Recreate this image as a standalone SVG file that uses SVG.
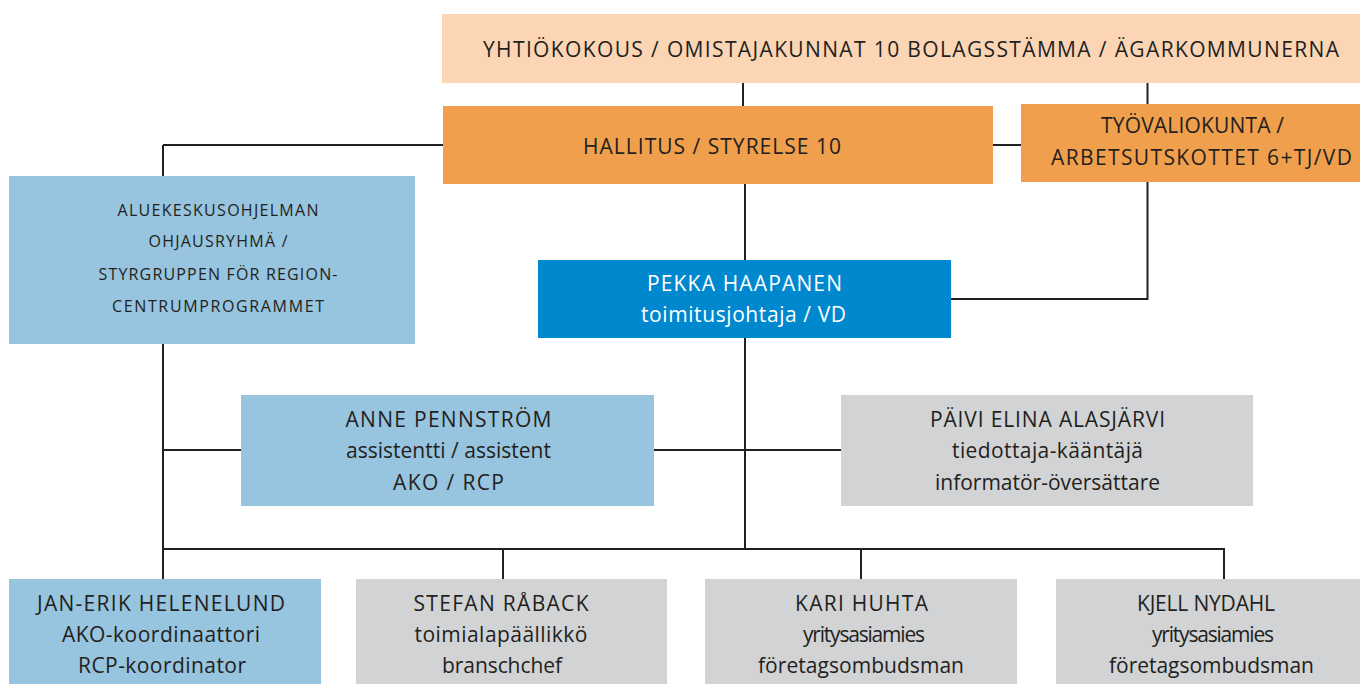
<svg xmlns="http://www.w3.org/2000/svg" width="1360" height="684" viewBox="0 0 1360 684">
<style>
.peach{fill:#fcd5b5}
.orange{fill:#f0a04c}
.lblue{fill:#97c4de}
.blue{fill:#0088cf}
.gray{fill:#d1d3d5}
text{font-family:"Open Sans","Noto Sans","Liberation Sans",sans-serif;font-size:21px;fill:#231f20;text-anchor:middle}
text.w{fill:#ffffff}
text.s{font-size:16px}
.conn{fill:none;stroke:#231f20;stroke-width:2}
</style>
<rect width="1360" height="684" fill="#ffffff"/>
<g id="connectors" class="conn">
<path d="M743,82 V106"/>
<path d="M1147.5,82 V104 M1147.5,181 V299 H951"/>
<path d="M163,145 H443 M993,145 H1021"/>
<path d="M163,145 V579"/>
<path d="M745,183 V549"/>
<path d="M163,450 H241 M654,450 H841"/>
<path d="M163,549 H1225"/>
<path d="M503,549 V579 M861,549 V579 M1224,549 V579"/>
</g>
<g id="yhtiokokous">
<rect class="peach" x="442" y="14" width="918" height="69"/>
<text x="911" y="56.5" textLength="856">YHTIÖKOKOUS / OMISTAJAKUNNAT 10 BOLAGSSTÄMMA / ÄGARKOMMUNERNA</text>
</g>
<g id="hallitus">
<rect class="orange" x="443" y="106" width="550" height="78"/>
<text x="712" y="154" textLength="258">HALLITUS / STYRELSE 10</text>
</g>
<g id="tyovaliokunta">
<rect class="orange" x="1021" y="104" width="339" height="78"/>
<text x="1192.5" y="133" textLength="183">TYÖVALIOKUNTA /</text>
<text x="1201.5" y="165" textLength="301">ARBETSUTSKOTTET 6+TJ/VD</text>
</g>
<g id="ohjausryhma">
<rect class="lblue" x="9" y="176" width="406" height="168"/>
<text class="s" x="218" y="216" textLength="201">ALUEKESKUSOHJELMAN</text>
<text class="s" x="218" y="247" textLength="139">OHJAUSRYHMÄ /</text>
<text class="s" x="218" y="280" textLength="239">STYRGRUPPEN FÖR REGION-</text>
<text class="s" x="218" y="312" textLength="212">CENTRUMPROGRAMMET</text>
</g>
<g id="pekka">
<rect class="blue" x="538" y="260" width="413" height="78"/>
<text class="w" x="744.5" y="291" textLength="195">PEKKA HAAPANEN</text>
<text class="w" x="743.5" y="322" textLength="205">toimitusjohtaja / VD</text>
</g>
<g id="anne">
<rect class="lblue" x="241" y="395" width="413" height="111"/>
<text x="448.5" y="427" textLength="206">ANNE PENNSTRÖM</text>
<text x="448.5" y="458" textLength="205">assistentti / assistent</text>
<text x="448.5" y="490" textLength="111">AKO / RCP</text>
</g>
<g id="paivi">
<rect class="gray" x="841" y="395" width="412" height="111"/>
<text x="1047.5" y="427" textLength="235">PÄIVI ELINA ALASJÄRVI</text>
<text x="1047.5" y="458" textLength="191">tiedottaja-kääntäjä</text>
<text x="1047.5" y="490" textLength="225">informatör-översättare</text>
</g>
<g id="janerik">
<rect class="lblue" x="9" y="579" width="312" height="105"/>
<text x="161" y="611" textLength="248">JAN-ERIK HELENELUND</text>
<text x="161" y="642" textLength="198">AKO-koordinaattori</text>
<text x="162" y="673" textLength="168">RCP-koordinator</text>
</g>
<g id="stefan">
<rect class="gray" x="356" y="579" width="311" height="105"/>
<text x="501" y="611" textLength="175">STEFAN RÅBACK</text>
<text x="501" y="642" textLength="173">toimialapäällikkö</text>
<text x="502" y="673" textLength="120">branschchef</text>
</g>
<g id="kari">
<rect class="gray" x="705" y="579" width="312" height="105"/>
<text x="861.5" y="611" textLength="133">KARI HUHTA</text>
<text x="864" y="642" textLength="122">yritysasiamies</text>
<text x="861" y="673" textLength="206">företagsombudsman</text>
</g>
<g id="kjell">
<rect class="gray" x="1056" y="579" width="304" height="105"/>
<text x="1206" y="611" textLength="138">KJELL NYDAHL</text>
<text x="1213" y="642" textLength="122">yritysasiamies</text>
<text x="1211.5" y="673" textLength="205">företagsombudsman</text>
</g>
</svg>
